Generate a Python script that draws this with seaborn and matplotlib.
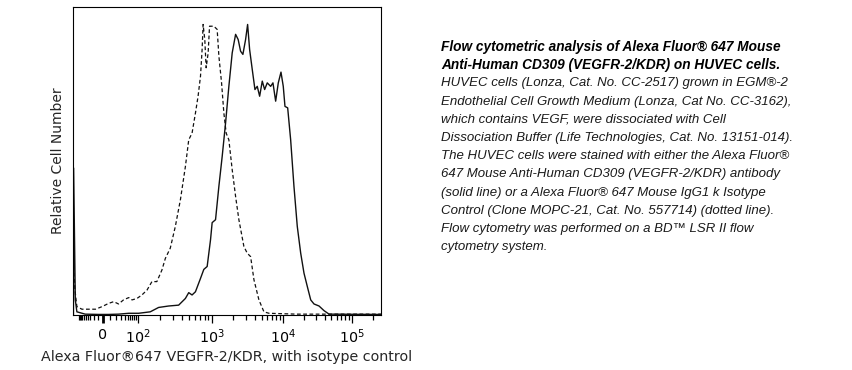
import numpy as np
import matplotlib
matplotlib.use("Agg")
import matplotlib.pyplot as plt
import seaborn as sns

# VEGFR-2/KDR stained (solid line): fluorescence vs relative count
vegfr_x = [-168, -165, -140, -120, -52, -8, 8, 25, 54, 103, 148, 192, 262, 358,
           441, 489, 542, 602, 704, 780, 865, 960, 1010, 1127, 1256, 1398, 1560,
           1735, 1933, 2158, 2346, 2535, 2733, 2981, 3184, 3397, 3700, 4037, 4349,
           4700, 5117, 5525, 6013, 6714, 7230, 7893, 8596, 9380, 10100, 10690,
           11700, 12920, 14420, 16110, 18050, 20150, 22510, 25210, 28130, 33260,
           39290, 46430, 262144]
vegfr_y = [0, 50.6, 5.2, 1.1, 0.3, 0.2, 0.2, 0.3, 0.6, 0.6, 1.1, 2.6, 3.1, 3.4,
           5.7, 7.7, 6.9, 8.0, 12.6, 15.7, 16.7, 25.9, 31.8, 32.8, 44.3, 54.6, 66.1,
           78.7, 90.2, 96.6, 94.8, 90.8, 89.7, 94.8, 100, 91.4, 84.5, 77.6, 78.7,
           75.3, 80.5, 77.6, 79.9, 78.7, 79.9, 73.6, 79.9, 83.6, 78.7, 71.8,
           71.3, 60.3, 44.3, 30.5, 21.3, 14.4, 9.8, 5.2, 3.8, 3.1,
           1.5, 0.3, 0.2]

# Isotype control (dotted line)
iso_x = [-165, -145, -120, -73, -15, -1, 8, 16, 25, 37, 54, 68, 95, 114, 134,
         156, 182, 213, 237, 276, 323, 378, 441, 489, 542, 602, 653, 704, 740,
         763, 804, 838, 892, 931, 1067, 1188, 1256, 1370, 1476, 1590, 1735, 1933,
         2158, 2400, 2822, 3140, 3508, 3911, 4592, 5400, 6350, 15850, 51800, 262144]
iso_y = [16.7, 8.6, 2.9, 2.0, 2.0, 2.9, 4.0, 4.6, 3.8, 5.2, 6.0, 5.2, 5.7, 6.9, 8.6,
         11.5, 11.5, 15.5, 19.5, 23.0, 30.5, 39.7, 51.1, 60.3, 62.6, 69.5, 75.3, 82.2, 91.4,
         100, 94.8, 85.1, 90.2, 99.4, 99.4, 98.3, 89.1, 79.9, 69.5, 62.6, 60.3, 50.0,
         40.8, 32.8, 23.6, 21.3, 20.1, 12.1, 5.2, 1.1, 0.6, 0.3, 0.3, 0.3]

major_ticks = [0, 100, 1000, 10000, 100000]
major_labels = ["0", "$10^2$", "$10^3$", "$10^4$", "$10^5$"]

caption_title = [
    "Flow cytometric analysis of Alexa Fluor\u00ae 647 Mouse",
    "Anti-Human CD309 (VEGFR-2/KDR) on HUVEC cells.",
]
caption_body = [
    "HUVEC cells (Lonza, Cat. No. CC-2517) grown in EGM\u00ae-2",
    "Endothelial Cell Growth Medium (Lonza, Cat No. CC-3162),",
    "which contains VEGF, were dissociated with Cell",
    "Dissociation Buffer (Life Technologies, Cat. No. 13151-014).",
    "The HUVEC cells were stained with either the Alexa Fluor\u00ae",
    "647 Mouse Anti-Human CD309 (VEGFR-2/KDR) antibody",
    "(solid line) or a Alexa Fluor\u00ae 647 Mouse IgG1 k Isotype",
    "Control (Clone MOPC-21, Cat. No. 557714) (dotted line).",
    "Flow cytometry was performed on a BD\u2122 LSR II flow",
    "cytometry system.",
]

# biexponential-like display scale (asinh, stretched to match FlowJo decades)
ASINH_W = 20.0
G_ANCH = np.array([-3.0, -1.178, 0.0, 1.004, 2.0, 3.0, 4.0, 5.0])
P_ANCH = np.array([32.6, 76.0, 104.0, 139.0, 213.0, 284.0, 353.0, 422.0])


def fwd(x):
    g = np.arcsinh(np.asarray(x, dtype=float) / ASINH_W) / np.log(10)
    return np.interp(g, G_ANCH, P_ANCH)


def inv(p):
    g = np.interp(np.asarray(p, dtype=float), P_ANCH, G_ANCH)
    return ASINH_W * np.sinh(g * np.log(10))


sns.set_style("white")
plt.rcParams["font.family"] = ["DejaVu Sans"]

fig = plt.figure(figsize=(8.52, 3.70), dpi=100)
ax = fig.add_axes([0.0857, 0.1486, 0.3615, 0.8324])

sns.lineplot(x=vegfr_x, y=vegfr_y, ax=ax, color="#111111", linewidth=1.0,
             sort=False, estimator=None)
sns.lineplot(x=iso_x, y=iso_y, ax=ax, color="#111111", linewidth=0.9,
             linestyle=(0, (3, 2)), sort=False, estimator=None)

ax.set_xscale("function", functions=(fwd, inv))
ax.set_xlim(-175, 262144)
ax.set_ylim(0, 106)

minor = [-v for v in range(10, 101, 10)] + [v for v in range(10, 100, 10)]
for dec in [100, 1000, 10000]:
    minor += [k * dec for k in range(2, 10)]
minor += [200000]
ax.set_xticks(major_ticks)
ax.set_xticklabels(major_labels, fontsize=10.3)
ax.set_xticks(minor, minor=True)
ax.set_yticks([])
ax.tick_params(axis="x", which="major", direction="out", length=6, width=0.9,
               pad=3, colors="black", bottom=True)
ax.tick_params(axis="x", which="minor", direction="out", length=3.5, width=0.9,
               color="black", bottom=True)
# the zero tick is drawn heavier in the original
ax.xaxis.get_major_ticks()[0].tick1line.set_markeredgewidth(2.0)
for s in ax.spines.values():
    s.set_color("black")
    s.set_linewidth(0.8)

ax.set_xlabel("Alexa Fluor\u00ae647 VEGFR-2/KDR, with isotype control",
              fontsize=10.3, labelpad=3)
ax.set_ylabel("Relative Cell Number", fontsize=10, labelpad=6)

# caption text on the right
y0 = 1 - 47 / 370
step = 18.2 / 370
for i, line in enumerate(caption_title + caption_body):
    bold = i < len(caption_title)
    fig.text(441 / 852, y0 - i * step, line, family="Liberation Sans",
             style="italic", weight="bold" if bold else "normal",
             fontsize=9.8 if bold else 9.5,
             color="black" if bold else "#1a1a1a", va="center", ha="left")

fig.savefig("out.png", dpi=100)
